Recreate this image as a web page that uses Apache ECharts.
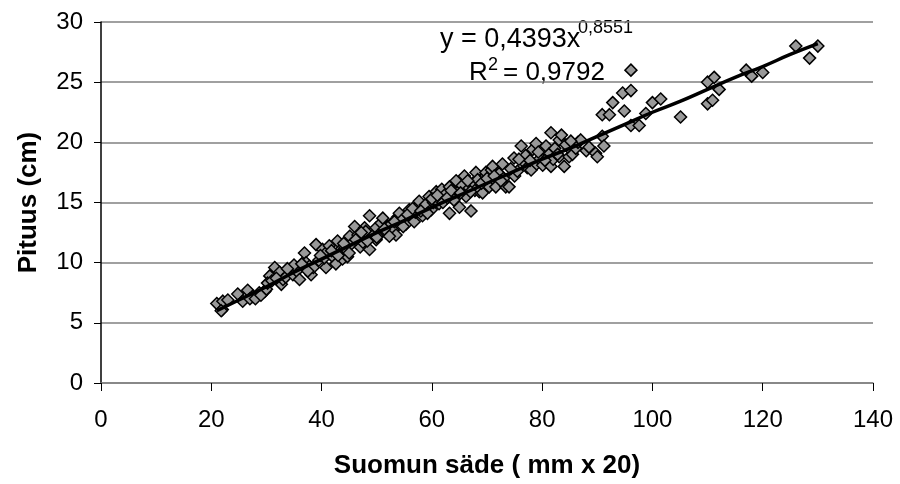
<!DOCTYPE html>
<html>
<head>
<meta charset="utf-8">
<script src="https://cdn.jsdelivr.net/npm/echarts@6/dist/echarts.min.js"></script>
<style>html,body{margin:0;padding:0;background:#fff}#c{width:900px;height:484px}</style>
</head>
<body>
<div id="c"></div>
<script>
// Scale radius (mm x 20) and length (cm) of each fish
const radius = [21,22,22.1,23,21.8,24.8,25.7,26.6,27.5,27,28.7,28,29.7,29,30,30.6,30.2,31.5,31,32.4,32.7,33,33.5,34.2,34.8,35.5,35,36,36.9,37.2,37.8,38.1,38.5,39,39.5,40.2,40.8,40.5,41,41.4,42,42.6,42.9,43.3,43.8,44.2,44.7,45,45.1,45.5,46,46.6,47,47.5,47.8,48,48.7,48.7,49.2,49.9,49.9,50.5,50.8,51.1,51.7,52,52.6,53,53.5,53.8,54.1,54.5,55.3,55.9,56.3,56.8,57,57.2,57.7,58.3,58.8,59.5,59.9,60.3,60.8,61.3,61.8,62,62.5,63.2,63.2,63.8,64,64.4,64.8,65,65.5,65.9,66.2,66.8,67.1,67.4,67.8,68,68.3,68.6,69.2,69.8,69.8,70.4,70.8,71,71.6,72.2,72.8,73,73.4,74,74.9,75,75.5,76.2,76.8,77,77.3,78,78.3,78.9,79,79.5,80.1,80.7,81.2,81.6,81.6,82,82.3,83.1,83.1,83.5,84,84.9,84.9,85.5,86.1,86.5,87,88,89.7,90,90.9,91.2,90.9,92.2,92.8,94.6,94.9,96.1,96.1,96.1,97.6,98.8,100,101.5,105.1,110,111.2,112.1,110,110.9,117,118,120,126,128.5,130,
  31.8,33.8,36.4,37.5,39.8,41.8,43,44,46.2,47.2,48.3,50,51.4,52.3,53.2,54.8,55.6,56.5,58,59.2,60,61,62.8,63.5,65.2,66.5,67,69,70,71.3,72.5,74.3,75.8,77.8,79.3,80.5,82.8,84.3,85.2,88.5];
const length = [6.6,6.1,6.8,6.9,6.0,7.4,6.8,7.7,7.2,7.0,7.5,7.0,7.6,7.3,7.8,8.9,8.3,9.6,8.5,9.2,8.2,8.6,8.8,9.4,9.0,9.3,9.8,8.6,10.8,10.0,9.7,9.0,9.6,11.5,10.2,11.1,9.6,10.4,10.9,11.4,10.5,9.9,11.8,11.0,10.3,11.2,10.5,10.8,12.2,11.6,13.0,12.3,11.3,11.7,12.9,12.6,13.9,11.1,12.2,12.9,11.9,12.4,13.3,13.7,12.5,13.0,13.2,12.7,12.3,13.8,14.1,13.5,13.2,14.4,13.8,13.4,14.2,14.6,15.1,13.9,14.8,15.5,14.4,15.0,15.9,14.9,16.1,15.0,15.7,16.3,14.1,15.5,15.2,16.8,15.9,14.6,16.4,17.2,15.5,16.2,14.3,16.6,16.0,17.5,16.9,15.9,15.8,17.2,17.5,16.3,17.7,18.0,16.3,17.4,18.2,17.0,16.3,16.3,18.7,17.2,17.6,19.7,18.3,18.9,17.9,17.7,19.4,19.9,18.2,18.6,18.1,19.7,19.0,20.8,18.0,18.6,19.5,20.2,18.8,20.6,18.0,18.8,19.5,19.0,19.5,20.0,20.2,19.3,19.1,18.8,20.5,19.7,22.3,22.3,23.3,24.1,22.6,24.3,26.0,21.4,21.4,22.4,23.3,23.6,22.1,25.0,25.4,24.4,23.2,23.5,26.0,25.5,25.8,28.0,27.0,28.0,
  8.7,9.5,9.9,9.3,10.6,11.0,10.6,11.6,11.9,12.5,11.8,12.1,12.8,12.2,13.4,13.0,14.0,14.5,14.3,14.1,15.3,15.6,15.4,16.0,15.8,16.8,15.9,16.6,17.0,17.2,16.8,17.8,18.6,18.5,19.2,18.5,19.0,19.8,20.1,19.6];
// Trendline as traced on the picture (power fit y = 0,4393x^0,8551)
const trendX = [21,25,30,35,40,45,50,55,60,65,70,75,80,85,90,95,100,105,110,115,120,125,130];
const trendY = [6.0,6.9,8.0,9.2,10.3,11.4,12.5,13.5,14.6,15.6,16.6,17.6,18.6,19.5,20.5,21.5,22.5,23.4,24.4,25.4,26.3,27.3,28.2];
const xTicks = [0,20,40,60,80,100,120,140];
const yTicks = [0,5,10,15,20,25,30];

const pts = radius.map((r,i)=>[r,length[i]]);
const trend = trendX.map((x,i)=>[x,trendY[i]]);
const FF = '"Liberation Sans", Arial, sans-serif';

const chart = echarts.init(document.getElementById('c'), null, {renderer:'canvas'});
chart.setOption({
  animation:false,
  backgroundColor:'#fff',
  grid:{left:101,right:27,top:22,bottom:100,containLabel:false},
  xAxis:{
    type:'value',min:xTicks[0],max:xTicks[xTicks.length-1],interval:20,
    name:'Suomun säde ( mm x 20)',nameLocation:'middle',nameGap:70,
    nameTextStyle:{fontFamily:FF,fontSize:26,fontWeight:'bold',color:'#000'},
    axisLine:{show:true,onZero:false,lineStyle:{color:'#808080',width:1.5}},
    axisTick:{show:true,inside:false,length:8,lineStyle:{color:'#000',width:1}},
    axisLabel:{fontFamily:FF,fontSize:24,color:'#000',margin:25},
    splitLine:{show:false}
  },
  yAxis:{
    type:'value',min:yTicks[0],max:yTicks[yTicks.length-1],interval:5,
    name:'Pituus (cm)',nameLocation:'middle',nameGap:59,
    nameTextStyle:{fontFamily:FF,fontSize:26,fontWeight:'bold',color:'#000'},
    axisLine:{show:true,onZero:false,lineStyle:{color:'#000',width:1.5}},
    axisTick:{show:true,inside:false,length:7,lineStyle:{color:'#000',width:1}},
    axisLabel:{fontFamily:FF,fontSize:24,color:'#000',margin:18},
    splitLine:{show:true,lineStyle:{color:'#808080',width:1.5}}
  },
  series:[
    {type:'scatter',data:pts,symbol:'diamond',symbolSize:12,z:2,
     itemStyle:{color:'#999999',borderColor:'#000',borderWidth:1.5,opacity:1}},
    {type:'line',data:trend,showSymbol:false,symbol:'none',smooth:true,z:3,
     lineStyle:{color:'#000',width:3.5}}
  ],
  graphic:[
    {type:'text',left:440,top:26,style:{text:'y = 0,4393x',fontFamily:FF,fontSize:27,fill:'#000'}},
    {type:'text',left:578,top:19,style:{text:'0,8551',fontFamily:FF,fontSize:18,fill:'#000'}},
    {type:'text',left:469,top:60,style:{text:'R',fontFamily:FF,fontSize:26,fill:'#000'}},
    {type:'text',left:488,top:56,style:{text:'2',fontFamily:FF,fontSize:18,fill:'#000'}},
    {type:'text',left:503,top:60,style:{text:'= 0,9792',fontFamily:FF,fontSize:26,fill:'#000'}}
  ]
});
</script>
</body>
</html>
